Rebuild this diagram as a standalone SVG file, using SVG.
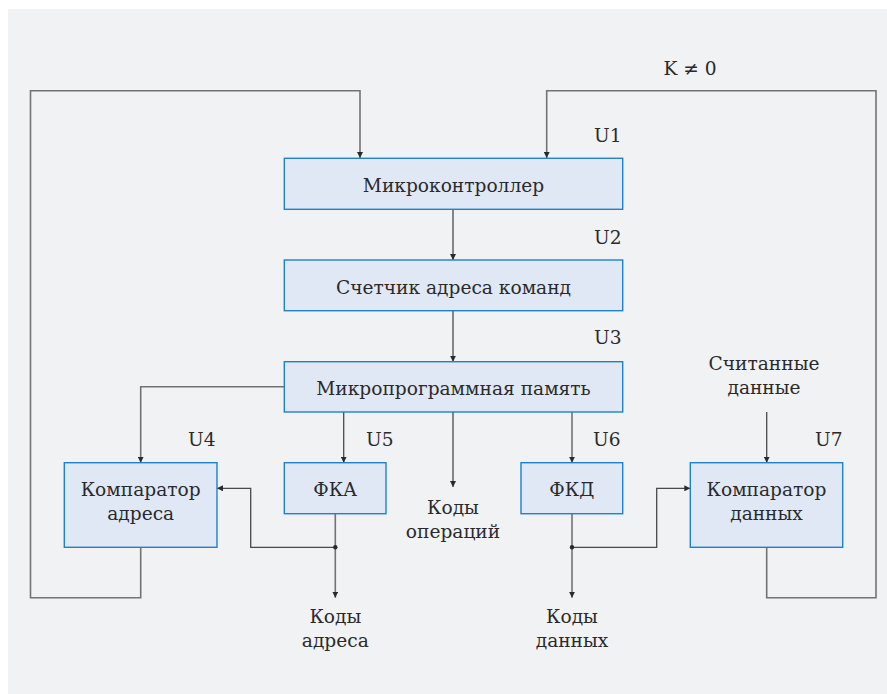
<svg xmlns="http://www.w3.org/2000/svg" width="887" height="694" viewBox="0 0 887 694">
<defs>
<style>
.bg{fill:#f1f2f4}
.box{fill:#e0e8f5;stroke:#1f80cc;stroke-width:1.4}
.t{font-family:"DejaVu Serif","Liberation Serif",serif;font-size:18.6px;fill:#2a2a2a;text-anchor:middle}
.lbl{font-family:"DejaVu Serif","Liberation Serif",serif;font-size:18.6px;fill:#2a2a2a;text-anchor:start}
.ln{fill:none;stroke:#4a4a4a;stroke-width:1.3}
.lg{fill:none;stroke:#737373;stroke-width:1.6}
</style>
<marker id="ah" viewBox="0 0 8 8" refX="8" refY="4" markerWidth="6" markerHeight="6" markerUnits="userSpaceOnUse" orient="auto">
<path d="M0,0 L8,4 L0,8 z" fill="#2a2a2a"/>
</marker>
</defs>
<rect class="bg" x="8" y="9" width="879" height="685"/>
<g id="connectors">
<polyline class="lg" points="140.7,547.3 140.7,597.7 30.5,597.7 30.5,90.7 360,90.7 360,158" marker-end="url(#ah)"/>
<polyline class="lg" points="766.7,547.3 766.7,597.7 876,597.7 876,90.7 546.7,90.7 546.7,158" marker-end="url(#ah)"/>
<line class="ln" x1="453" y1="209.3" x2="453" y2="260" marker-end="url(#ah)"/>
<line class="ln" x1="453" y1="310.7" x2="453" y2="361.7" marker-end="url(#ah)"/>
<polyline class="lg" points="284.3,386.7 140.7,386.7 140.7,462.7" marker-end="url(#ah)"/>
<line class="ln" x1="343.7" y1="412" x2="343.7" y2="462.7" marker-end="url(#ah)"/>
<line class="ln" x1="453" y1="412" x2="453" y2="487" marker-end="url(#ah)"/>
<line class="lg" x1="572" y1="412" x2="572" y2="462.7" marker-end="url(#ah)"/>
<line class="ln" x1="766.7" y1="412" x2="766.7" y2="462.7" marker-end="url(#ah)"/>
<line class="lg" x1="335.3" y1="513.7" x2="335.3" y2="597.7" marker-end="url(#ah)"/>
<polyline class="ln" points="335.3,547.3 250.7,547.3 250.7,488.3 217,488.3" marker-end="url(#ah)"/>
<line class="lg" x1="572" y1="513.7" x2="572" y2="597.7" marker-end="url(#ah)"/>
<polyline class="ln" points="572,547.3 656.7,547.3 656.7,488.3 690.3,488.3" marker-end="url(#ah)"/>
<circle cx="335.3" cy="547.3" r="2.2" fill="#2a2a2a"/>
<circle cx="572" cy="547.3" r="2.2" fill="#2a2a2a"/>
</g>
<g id="u1"><rect class="box" x="284.3" y="158.3" width="338.4" height="51"/><text class="t" x="453.5" y="192">Микроконтроллер</text><text class="lbl" x="594" y="142">U1</text></g>
<g id="u2"><rect class="box" x="284.3" y="260" width="338.4" height="50.7"/><text class="t" x="453.5" y="294">Счетчик адреса команд</text><text class="lbl" x="594" y="244">U2</text></g>
<g id="u3"><rect class="box" x="284.3" y="361.7" width="338.4" height="50.3"/><text class="t" x="453.5" y="395">Микропрограммная память</text><text class="lbl" x="594" y="344">U3</text></g>
<g id="u4"><rect class="box" x="64.3" y="462.7" width="152.7" height="84.6"/><text class="t" x="140.7" y="496">Компаратор</text><text class="t" x="140.7" y="520">адреса</text><text class="lbl" x="188" y="446">U4</text></g>
<g id="u5"><rect class="box" x="284.3" y="462.7" width="101.7" height="51"/><text class="t" x="335.2" y="496">ФКА</text><text class="lbl" x="366" y="446">U5</text></g>
<g id="u6"><rect class="box" x="521" y="462.7" width="101.7" height="51"/><text class="t" x="571.8" y="496">ФКД</text><text class="lbl" x="593" y="446">U6</text></g>
<g id="u7"><rect class="box" x="690.3" y="462.7" width="152.4" height="84.6"/><text class="t" x="766.5" y="496">Компаратор</text><text class="t" x="766.5" y="520">данных</text><text class="lbl" x="815" y="446">U7</text></g>
<g id="labels">
<text class="t" x="690" y="75">K ≠ 0</text>
<text class="t" x="453" y="514">Коды</text>
<text class="t" x="453" y="538">операций</text>
<text class="t" x="335.3" y="623">Коды</text>
<text class="t" x="335.3" y="647">адреса</text>
<text class="t" x="572" y="623">Коды</text>
<text class="t" x="572" y="647">данных</text>
<text class="t" x="764" y="370">Считанные</text>
<text class="t" x="764" y="394">данные</text>
</g>
</svg>
